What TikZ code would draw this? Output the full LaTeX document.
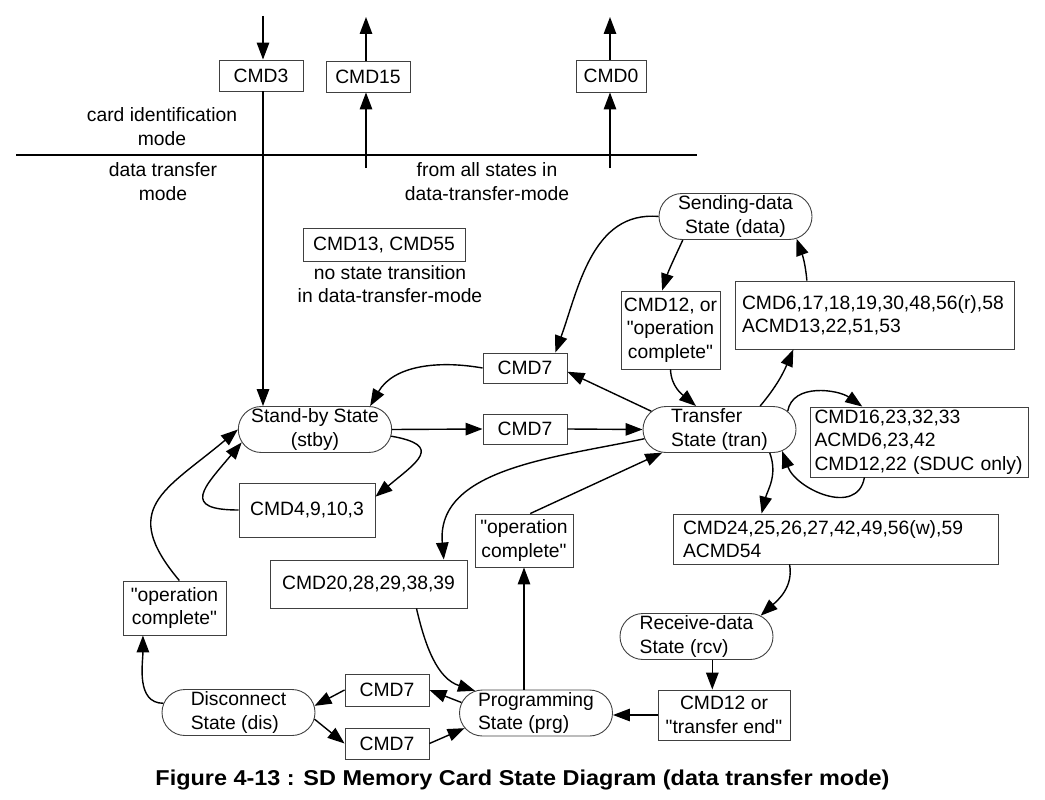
\documentclass[tikz,border=0pt]{standalone}
\usepackage{graphicx}
\usepackage{fontspec}
\setmainfont{Liberation Sans}[Ligatures=TeXOff]
\usetikzlibrary{arrows.meta,shapes.misc}
\newcommand{\diagfont}{\fontsize{19.3pt}{23.3pt}\selectfont}
\newcommand{\titlefont}{\fontsize{21.5pt}{25pt}\selectfont\bfseries}

\begin{document}
\begin{tikzpicture}[x=1pt,y=1pt,
  every node/.style={font=\diagfont},
  state/.style={rounded rectangle, draw=black!75, line width=0.9pt, minimum width=153pt, minimum height=46pt, inner sep=0pt, align=left},
  cmd/.style={draw=black!75, line width=0.9pt, inner sep=0pt, align=center},
  flow/.style={line width=1.4pt, -{Triangle[length=17pt,width=12.5pt]}}]

\useasboundingbox (0,0) rectangle (1045,-800);

%%%%%% Card identification mode %%%%%%%

\node (cmdthree) at (261,-75.5) [cmd, minimum width=84pt, minimum height=31pt] {CMD3};
\node (cmdfifteen) at (368,-76.5) [cmd, minimum width=84pt, minimum height=31pt] {CMD15};
\node (cmdzero) at (611,-76) [cmd, minimum width=70pt, minimum height=32pt] {CMD0};

\coordinate (threein) at (263,-16);
\coordinate (fifteenin) at (366,-168);
\coordinate (fifteenout) at (366,-17);
\coordinate (zeroin) at (610,-168);
\coordinate (zeroout) at (610,-17);
\coordinate (sepleft) at (16,-155);
\coordinate (sepright) at (697,-155);

\node (cardid) at (162,-126.5) [align=center] {card identification\\mode};
\node (datamode) at (163,-181.5) [align=center] {data transfer\\mode};
\node (allstates) at (487,-181.5) [align=center] {from all states in\\data-transfer-mode};

\draw[line width=2pt] (sepleft) -- (sepright);
\draw[flow] (threein) -- (threein |- cmdthree.north);
\draw[flow] (fifteenin) -- (fifteenin |- cmdfifteen.south);
\draw[flow] (fifteenin |- cmdfifteen.north) -- (fifteenout);
\draw[flow] (zeroin) -- (zeroin |- cmdzero.south);
\draw[flow] (zeroin |- cmdzero.north) -- (zeroout);

%%%%%% States %%%%%%%

\node (data) at (735.5,-216.5) [state, align=center] {Sending-data\\State (data)};
\node (stby) at (315,-429.5) [state, align=center] {Stand-by State\\(stby)};
\node (tran) at (719.5,-429.5) [state] {Transfer\\State (tran)};
\node (rcv) at (696.5,-636.5) [state] {Receive-data\\State (rcv)};
\node (dis) at (238.5,-712.5) [state] {Disconnect\\State (dis)};
\node (prg) at (536,-713) [state] {Programming\\State (prg)};

%%%%%% Commands %%%%%%%

\node (cmdthirteen) at (384,-244.5) [cmd, minimum width=162pt, minimum height=33pt] {CMD13, CMD55};
\node (notrans) at (390,-284) [align=center] {no state transition\\in data-transfer-mode};
\node (cmdtwelve) at (670.5,-330) [cmd, minimum width=99pt, minimum height=78pt] {CMD12, or\\"operation\\complete"};
\node (cmdsix) at (874.5,-315) [cmd, minimum height=68pt, text width=265pt, inner xsep=7pt, align=left] {CMD6,17,18,19,30,48,56(r),58\\ACMD13,22,51,53};
\node (cmdsevenA) at (525,-368) [cmd, minimum width=84pt, minimum height=30pt] {CMD7};
\node (cmdsevenB) at (525,-429) [cmd, minimum width=84pt, minimum height=30pt] {CMD7};
\node (cmdsixteen) at (919,-442) [cmd, minimum height=70pt, text width=209pt, inner xsep=4.5pt, align=left] {CMD16,23,32,33\\ACMD6,23,42\\CMD12,22 (SDUC only)};
\node (cmdfour) at (307,-510) [cmd, minimum width=136pt, minimum height=54pt] {CMD4,9,10,3};
\node (cmdtwentyfour) at (835.5,-539) [cmd, minimum height=50pt, text width=305pt, inner xsep=10pt, align=left] {CMD24,25,26,27,42,49,56(w),59\\ACMD54};
\node (opcompB) at (524,-540.5) [cmd, minimum width=98pt, minimum height=53pt] {"operation\\complete"};
\node (cmdtwenty) at (368.5,-584) [cmd, minimum width=197pt, minimum height=48pt] {CMD20,28,29,38,39};
\node (opcompA) at (174.5,-608) [cmd, minimum width=103pt, minimum height=54pt] {"operation\\complete"};
\node (cmdtwelveB) at (724,-715) [cmd, minimum width=132pt, minimum height=50pt] {CMD12 or\\"transfer end"};
\node (cmdsevenC) at (387,-690) [cmd, minimum width=84pt, minimum height=32pt] {CMD7};
\node (cmdsevenD) at (387,-743.5) [cmd, minimum width=84pt, minimum height=31pt] {CMD7};

%%%%%% Transitions %%%%%%%

\draw[flow] (threein |- cmdthree.south) -- (threein |- stby.north);

\draw[flow] (data.west) to[out=175,in=70] (cmdsevenA.27);
\draw[flow] (data.204) to[out=-115,in=72] (cmdtwelve.102);
\draw[flow] (cmdtwelve.south) to[out=-88,in=140] (tran.135);
\draw[flow] (tran.30) to[out=50,in=-113] (cmdsix.203);
\draw[flow] (cmdsix.153) to[out=95,in=-70] (data.-20);

\draw[flow] (tran.165) -- (cmdsevenA.-5);
\draw[flow] (cmdsevenA.west) to[out=170,in=60] (stby.23);
\draw[flow] (stby.east) -- (cmdsevenB.west);
\draw[flow] (cmdsevenB.east) -- (tran.west);

\draw[flow] (stby.-5) to[out=-10,in=40,looseness=2.2] (cmdfour.11);
\draw[flow] (cmdfour.west) to[out=180,in=230,looseness=2.2] (stby.190);
\draw[flow] (opcompA.80) to[out=130,in=220,looseness=1.5] (stby.west);
\draw[flow] (dis.173) to[out=180,in=-90] (opcompA.221);

\draw[flow] (prg.172) -- (cmdsevenC.east);
\draw[flow] (cmdsevenC.west) -- (dis.5);
\draw[flow] (dis.-5) -- (cmdsevenD.west);
\draw[flow] (cmdsevenD.east) -- (prg.192);

\draw[flow] (tran.187) to[out=192,in=95] (cmdtwenty.18);
\draw[flow] (cmdtwenty.-27) to[out=-77,in=162] (prg.160);
\draw[flow] (opcompB.south |- prg.north) -- (opcompB.south);
\draw[flow] (opcompB.77) -- (tran.202);

\draw[flow] (tran.15) to[out=80,in=145] (cmdsixteen.148);
\draw[flow] (cmdsixteen.213) to[out=-100,in=-70,looseness=1.2] (tran.-19);
\draw[flow] (tran.-25) to[out=-70,in=76] (cmdtwentyfour.161);
\draw[flow] (cmdtwentyfour.209) to[out=-80,in=42] (rcv.18);
\draw[flow] (rcv.-56) -- (rcv.-56 |- cmdtwelveB.north);
\draw[flow] (cmdtwelveB.west) -- (cmdtwelveB.west -| prg.east);

\node (title) at (522.5,-785) [anchor=base, font=\titlefont] {\scalebox{1.09}[1]{Figure 4-13 : SD Memory Card State Diagram (data transfer mode)}};

\end{tikzpicture}
\end{document}
